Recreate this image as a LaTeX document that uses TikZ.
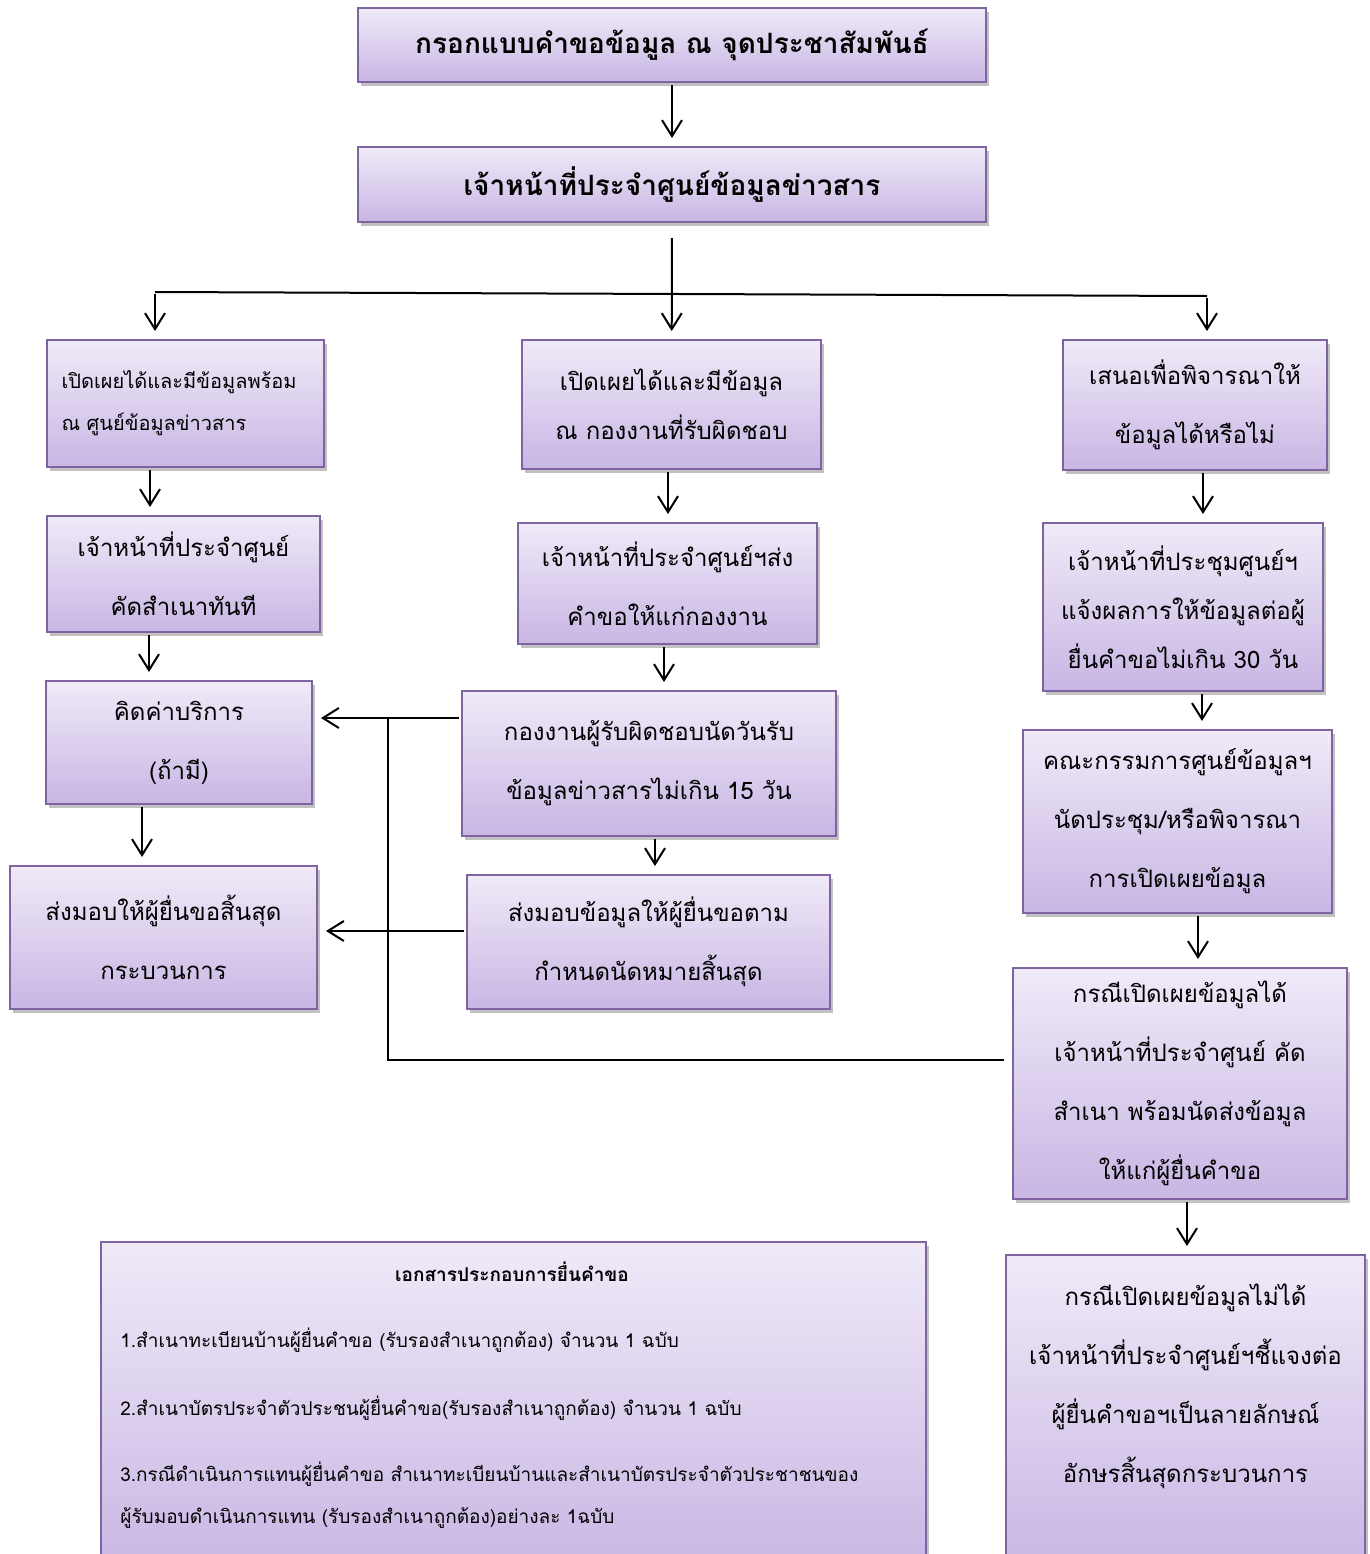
\documentclass[tikz,border=0pt]{standalone}
\usepackage{fontspec}
\newfontfamily\thaifont[Script=Thai]{Loma}
\usetikzlibrary{arrows.meta,shadows}
\definecolor{boxtop}{RGB}{240,234,248}
\definecolor{boxbot}{RGB}{200,182,228}
\definecolor{boxline}{RGB}{128,100,162}
\tikzset{My Box Style/.style={rectangle, draw=boxline, line width=1pt, top color=boxtop, bottom color=boxbot,
    drop shadow={shadow xshift=1.5pt, shadow yshift=-2pt, opacity=0.35, fill=black!70},
    align=center, inner sep=0pt, font=\thaifont\fontsize{12}{29.5}\selectfont}}
\tikzset{My Line Style/.style={line width=1pt}}
\tikzset{My Arrow Style/.style={line width=1pt, shorten >=4pt, shorten <=1pt,
    -{Straight Barb[length=8pt,width=10pt,line width=1pt]}}}

\begin{document}
\begin{tikzpicture}[x=0.5pt,y=-0.5pt]
	\useasboundingbox (0,0) rectangle (1370,1554);
	
	% top
	\node[My Box Style, minimum width=314pt, minimum height=37pt, font=\thaifont\bfseries\fontsize{14}{18}\selectfont] (form) at (672,45) {กรอกแบบคำขอข้อมูล ณ จุดประชาสัมพันธ์};
	\node[My Box Style, minimum width=314pt, minimum height=37.5pt, font=\thaifont\bfseries\fontsize{14}{18}\selectfont] (staff) at (672,184.5) {เจ้าหน้าที่ประจำศูนย์ข้อมูลข่าวสาร};
	
	% left column
	\node[My Box Style, minimum width=138.5pt, minimum height=63.5pt, text width=124pt, align=left, font=\thaifont\fontsize{10}{21}\selectfont] (left1) at (185.5,403.5) {เปิดเผยได้และมีข้อมูลพร้อม\\ณ ศูนย์ข้อมูลข่าวสาร};
	\node[My Box Style, minimum width=136.5pt, minimum height=58pt] (left2) at (183.5,574) {เจ้าหน้าที่ประจำศูนย์\\คัดสำเนาทันที};
	\node[My Box Style, minimum width=133pt, minimum height=61.5pt] (left3) at (179,742.5) {คิดค่าบริการ\\(ถ้ามี)};
	\node[My Box Style, minimum width=153.5pt, minimum height=71.5pt] (left4) at (163.5,937.5) {ส่งมอบให้ผู้ยื่นขอสิ้นสุด\\กระบวนการ};
	
	% middle column
	\node[My Box Style, minimum width=149.5pt, minimum height=64.5pt, font=\thaifont\fontsize{12}{24.5}\selectfont] (mid1) at (671.5,404.5) {เปิดเผยได้และมีข้อมูล\\ณ กองงานที่รับผิดชอบ};
	\node[My Box Style, minimum width=149.5pt, minimum height=60.5pt] (mid2) at (667.5,583.5) {เจ้าหน้าที่ประจำศูนย์ฯส่ง\\คำขอให้แก่กองงาน};
	\node[My Box Style, minimum width=187pt, minimum height=72.5pt] (mid3) at (649,763.5) {กองงานผู้รับผิดชอบนัดวันรับ\\ข้อมูลข่าวสารไม่เกิน 15 วัน};
	\node[My Box Style, minimum width=181.5pt, minimum height=67pt] (mid4) at (648.5,942) {ส่งมอบข้อมูลให้ผู้ยื่นขอตาม\\กำหนดนัดหมายสิ้นสุด};
	
	% right column
	\node[My Box Style, minimum width=132pt, minimum height=65pt] (right1) at (1195,405) {เสนอเพื่อพิจารณาให้\\ข้อมูลได้หรือไม่};
	\node[My Box Style, minimum width=140pt, minimum height=84pt, font=\thaifont\fontsize{12}{24.5}\selectfont] (right2) at (1183,607) {เจ้าหน้าที่ประชุมศูนย์ฯ\\แจ้งผลการให้ข้อมูลต่อผู้\\ยื่นคำขอไม่เกิน 30 วัน};
	\node[My Box Style, minimum width=154.5pt, minimum height=91.5pt] (right3) at (1177.5,821.5) {คณะกรรมการศูนย์ข้อมูลฯ\\นัดประชุม/หรือพิจารณา\\การเปิดเผยข้อมูล};
	\node[My Box Style, minimum width=167pt, minimum height=115.5pt] (right4) at (1180,1083.5) {กรณีเปิดเผยข้อมูลได้\\เจ้าหน้าที่ประจำศูนย์ คัด\\สำเนา พร้อมนัดส่งข้อมูล\\ให้แก่ผู้ยื่นคำขอ};
	\node[My Box Style, minimum width=179.5pt, minimum height=158pt, anchor=north west] (right5) at (1005,1254) {กรณีเปิดเผยข้อมูลไม่ได้\\เจ้าหน้าที่ประจำศูนย์ฯชี้แจงต่อ\\ผู้ยื่นคำขอฯเป็นลายลักษณ์\\อักษรสิ้นสุดกระบวนการ\\~};
	
	% documents
	\node[My Box Style, minimum width=412.5pt, minimum height=165pt, anchor=north west] (docs) at (100,1241) {};
	\node[font=\thaifont\bfseries\fontsize{9.5}{12}\selectfont] (docstitle) at (512,1272) {เอกสารประกอบการยื่นคำขอ};
	\node[anchor=west, inner sep=0pt, font=\thaifont\fontsize{9.5}{21}\selectfont] (doc1) at (120,1340) {1.สำเนาทะเบียนบ้านผู้ยื่นคำขอ (รับรองสำเนาถูกต้อง) จำนวน 1 ฉบับ};
	\node[anchor=west, inner sep=0pt, font=\thaifont\fontsize{9.5}{21}\selectfont] (doc2) at (120,1408) {2.สำเนาบัตรประจำตัวประชนผู้ยื่นคำขอ(รับรองสำเนาถูกต้อง) จำนวน 1 ฉบับ};
	\node[anchor=north west, inner sep=0pt, align=left, font=\thaifont\fontsize{9.5}{21}\selectfont] (doc3) at (120,1462) {3.กรณีดำเนินการแทนผู้ยื่นคำขอ สำเนาทะเบียนบ้านและสำเนาบัตรประจำตัวประชาชนของ\\ผู้รับมอบดำเนินการแทน (รับรองสำเนาถูกต้อง)อย่างละ 1ฉบับ};
	
	% connectors
	\draw[My Arrow Style] (form) -- (staff);
	\draw[My Arrow Style] ([yshift=-6.5pt]staff.south) -- (mid1);
	\coordinate (branchL) at (155,292);
	\coordinate (branchR) at (1207,296);
	\draw[My Line Style] (branchL) -- (branchR);
	\draw[My Arrow Style] (branchL) -- (branchL |- left1.north);
	\draw[My Arrow Style] (branchR) -- (branchR |- right1.north);
	
	\draw[My Arrow Style] (left1.south -| 150,0) -- (left2.north -| 150,0);
	\draw[My Arrow Style] (left2.south -| 149,0) -- (left3.north -| 149,0);
	\draw[My Arrow Style] (left3.south -| 142,0) -- (left4.north -| 142,0);
	
	\draw[My Arrow Style] (mid1.south -| 668,0) -- (mid2.north -| 668,0);
	\draw[My Arrow Style] (mid2.south -| 664,0) -- (mid3.north -| 664,0);
	\draw[My Arrow Style] (mid3.south -| 655,0) -- (mid4.north -| 655,0);
	
	\draw[My Arrow Style] (right1.south -| 1203,0) -- (right2.north -| 1203,0);
	\draw[My Arrow Style] (right2.south -| 1202,0) -- (right3.north -| 1202,0);
	\draw[My Arrow Style] (right3.south -| 1198,0) -- (right4.north -| 1198,0);
	\draw[My Arrow Style] (right4.south -| 1187,0) -- (right5.north -| 1187,0);
	
	\draw[My Arrow Style] (mid3.west |- 0,718) -- (left3.east |- 0,718);
	\draw[My Arrow Style] (mid4.west |- 0,931) -- (left4.east |- 0,931);
	\draw[My Line Style] ([xshift=-4pt]right4.west |- 0,1060) -- (388,1060) -- (388,718);
\end{tikzpicture}
\end{document}
